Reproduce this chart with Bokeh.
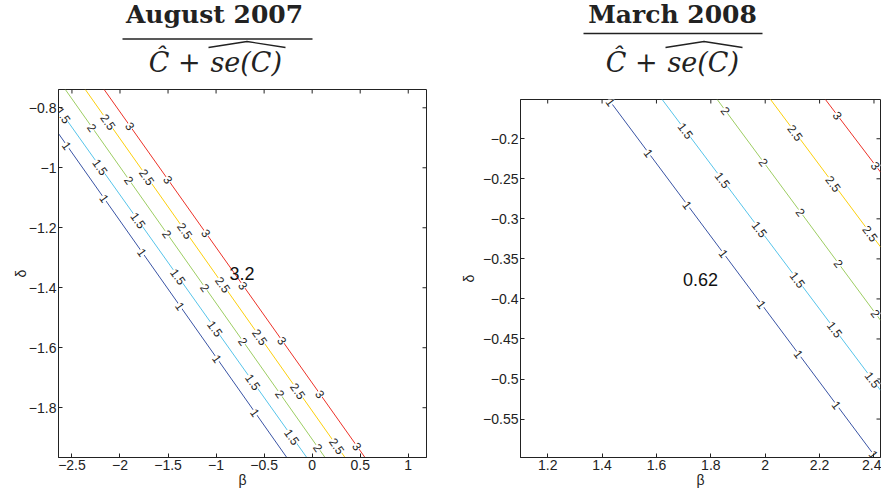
import math
import numpy as np
from bokeh.plotting import figure
from bokeh.layouts import row, column
from bokeh.models import Range1d, FixedTicker, Label, ColumnDataSource
from bokeh.embed import file_html
from bokeh.resources import INLINE
from bokeh.core.properties import value

# ---------------- data ----------------
levels = [1.0, 1.5, 2.0, 2.5, 3.0]
level_text = ["1", "1.5", "2", "2.5", "3"]
level_colors = ["#3953a4", "#56c4ea", "#9dcd62", "#fccf0c", "#ec3127"]

# August 2007 panel
aug_title = "August 2007"
aug_x_range = [-2.64, 1.19]
aug_y_range = [-1.966, -0.739]
aug_x_ticks = [-2.5, -2.0, -1.5, -1.0, -0.5, 0.0, 0.5, 1.0]
aug_x_tick_labels = ["−2.5", "−2", "−1.5", "−1", "−0.5", "0", "0.5", "1"]
aug_y_ticks = [-1.8, -1.6, -1.4, -1.2, -1.0, -0.8]
aug_y_tick_labels = ["−1.8", "−1.6", "−1.4", "−1.2", "−1", "−0.8"]
aug_beta_start = [-2.64, -2.64, -2.569, -2.361, -2.165]
aug_delta_start = [-0.886, -0.802, -0.739, -0.739, -0.739]
aug_beta_end = [-0.264, -0.056, 0.134, 0.342, 0.550]
aug_delta_end = [-1.966, -1.966, -1.966, -1.966, -1.966]
aug_label_beta = [
    [-2.552, -2.164, -1.769, -1.375, -0.989, -0.594],
    [-2.590, -2.206, -1.811, -1.395, -1.010, -0.615, -0.209],
    [-2.289, -1.904, -1.509, -1.114, -0.719, -0.334, 0.061],
    [-2.123, -1.718, -1.323, -0.928, -0.543, -0.147, 0.258],
    [-1.895, -1.500, -1.105, -0.719, -0.313, 0.082, 0.467],
]
aug_note = "3.2"
aug_note_beta = -0.729
aug_note_delta = -1.353

# March 2008 panel
mar_title = "March 2008"
mar_x_range = [1.1, 2.424]
mar_y_range = [-0.598, -0.151]
mar_x_ticks = [1.2, 1.4, 1.6, 1.8, 2.0, 2.2, 2.4]
mar_x_tick_labels = ["1.2", "1.4", "1.6", "1.8", "2", "2.2", "2.4"]
mar_y_ticks = [-0.55, -0.5, -0.45, -0.4, -0.35, -0.3, -0.25, -0.2]
mar_y_tick_labels = ["−0.55", "−0.5", "−0.45", "−0.4", "−0.35", "−0.3", "−0.25", "−0.2"]
mar_beta_start = [1.4245, 1.621, 1.8235, 2.0197, 2.2214]
mar_delta_start = [-0.151, -0.151, -0.151, -0.151, -0.151]
mar_beta_end = [2.407, 2.424, 2.424, 2.424, 2.424]
mar_delta_end = [-0.598, -0.514, -0.4266, -0.335, -0.2416]
mar_label_beta = [
    [1.431, 1.571, 1.714, 1.847, 1.987, 2.123, 2.263, 2.399],
    [1.707, 1.843, 1.979, 2.119, 2.256, 2.395],
    [1.854, 1.994, 2.130, 2.270, 2.406],
    [2.111, 2.251, 2.387],
    [2.266, 2.406],
]
mar_note = "0.62"
mar_note_beta = 1.762
mar_note_delta = -0.3754

subtitle_left = "Ĉ +"
subtitle_right = "se(C)"

TICK_FONT = "Liberation Sans"
SERIF = "DejaVu Serif"
INK = "#222222"


def make_panel(x_range, y_range, xticks, xlabels, yticks, ylabels,
               b0s, d0s, b1s, d1s, label_betas, note, note_b, note_d,
               fw, fh, mb_left, mb_right, mb_top, mb_bottom, ylab_standoff):
    p = figure(x_range=Range1d(*x_range), y_range=Range1d(*y_range),
               frame_width=fw, frame_height=fh,
               min_border_left=mb_left, min_border_right=mb_right,
               min_border_top=mb_top, min_border_bottom=mb_bottom,
               output_backend="svg", toolbar_location=None, title=None)
    p.grid.visible = False
    p.background_fill_color = "white"
    p.border_fill_color = "white"
    p.outline_line_color = INK
    p.outline_line_width = 1

    for ax, ticks, labels in ((p.xaxis[0], xticks, xlabels), (p.yaxis[0], yticks, ylabels)):
        ax.ticker = FixedTicker(ticks=ticks)
        ax.major_label_overrides = {t: l for t, l in zip(ticks, labels)}
        ax.major_tick_in = 4
        ax.major_tick_out = 0
        ax.minor_tick_in = 0
        ax.minor_tick_out = 0
        ax.major_label_text_font = TICK_FONT
        ax.major_label_text_font_size = "14px"
        ax.major_label_text_color = INK
        ax.major_label_standoff = 2
        ax.axis_line_color = INK
        ax.major_tick_line_color = INK
        ax.axis_label_text_font = TICK_FONT
        ax.axis_label_text_font_size = "14px"
        ax.axis_label_text_font_style = "normal"
        ax.axis_label_text_color = INK
        ax.axis_label_standoff = -1
    p.xaxis[0].axis_label = "β"
    p.yaxis[0].axis_label = "δ"
    p.yaxis[0].axis_label_standoff = ylab_standoff

    # mirrored inward ticks on the top and right edges
    p.ray(x=xticks, y=[y_range[1]] * len(xticks), length=4, length_units="screen",
          angle=-math.pi / 2, line_color=INK, line_width=1)
    p.ray(x=[x_range[1]] * len(yticks), y=yticks, length=4, length_units="screen",
          angle=math.pi, line_color=INK, line_width=1)

    # contour lines
    seg = ColumnDataSource(dict(x0=b0s, y0=d0s, x1=b1s, y1=d1s, color=level_colors))
    p.segment("x0", "y0", "x1", "y1", source=seg, line_color="color", line_width=1)

    # contour labels along each line
    px_b = fw / (x_range[1] - x_range[0])
    px_d = fh / (y_range[1] - y_range[0])
    lx, ly, lt, la = [], [], [], []
    for i, bets in enumerate(label_betas):
        slope = (d1s[i] - d0s[i]) / (b1s[i] - b0s[i])
        ang = math.atan(slope * px_d / px_b)
        for b in bets:
            lx.append(b)
            ly.append(float(np.interp(b, [b0s[i], b1s[i]], [d0s[i], d1s[i]])))
            lt.append(level_text[i])
            la.append(ang)
    lab = ColumnDataSource(dict(x=lx, y=ly, text=lt, angle=la))
    p.text("x", "y", text="text", angle="angle", source=lab,
           text_font=value(TICK_FONT), text_font_size="12px", text_color=INK,
           text_align="center", text_baseline="middle",
           background_fill_color="white")

    p.add_layout(Label(x=note_b, y=note_d, text=note, text_font=TICK_FONT,
                       text_font_size="18px", text_color="#111111",
                       text_align="center", text_baseline="middle"))
    return p


def make_title(width, height, title, cx, y1, bar_x0, bar_x1, bar_y,
               split_x, y2, hat_x0, hat_x1, hat_peak, hat_end):
    # a bare figure whose data units are pixels (y grows downwards)
    t = figure(x_range=Range1d(0, width), y_range=Range1d(height, 0),
               frame_width=width, frame_height=height, min_border=0,
               x_axis_location=None, y_axis_location=None,
               output_backend="svg", toolbar_location=None, title=None)
    t.grid.visible = False
    t.outline_line_color = None
    t.text(x=[cx], y=[y1], text=[title], text_font=value(SERIF),
           text_font_style="bold", text_font_size="25px", text_color=INK,
           text_align="center", text_baseline="alphabetic")
    t.line(x=[bar_x0, bar_x1], y=[bar_y, bar_y], line_color=INK, line_width=1.4)
    t.text(x=[split_x], y=[y2], text=[subtitle_left], text_font=value(SERIF),
           text_font_style="italic", text_font_size="27px", text_color=INK,
           text_align="right", text_baseline="alphabetic")
    t.text(x=[split_x + 10], y=[y2], text=[subtitle_right], text_font=value(SERIF),
           text_font_style="italic", text_font_size="27px", text_color=INK,
           text_align="left", text_baseline="alphabetic")
    t.line(x=[hat_x0, (hat_x0 + hat_x1) / 2, hat_x1], y=[hat_end, hat_peak, hat_end],
           line_color=INK, line_width=1.3)
    return t


# geometry (page has no margin; frames placed to match the reference)
L_left, L_right, L_top, L_bottom = 58, 22, 2, 34
L_fw, L_fh = 368, 368
R_left, R_right, R_top, R_bottom = 72, 1, 2, 34
R_fw, R_fh = 360, 358

p1 = make_panel(aug_x_range, aug_y_range, aug_x_ticks, aug_x_tick_labels,
                aug_y_ticks, aug_y_tick_labels, aug_beta_start, aug_delta_start,
                aug_beta_end, aug_delta_end, aug_label_beta, aug_note,
                aug_note_beta, aug_note_delta, L_fw, L_fh, L_left, L_right, L_top,
                L_bottom, -3)
p2 = make_panel(mar_x_range, mar_y_range, mar_x_ticks, mar_x_tick_labels,
                mar_y_ticks, mar_y_tick_labels, mar_beta_start, mar_delta_start,
                mar_beta_end, mar_delta_end, mar_label_beta, mar_note,
                mar_note_beta, mar_note_delta, R_fw, R_fh, R_left, R_right, R_top,
                R_bottom, 3)

# title coordinates are relative to each panel's frame left edge
t1 = make_title(L_fw, 87, aug_title, 156, 14, 64, 254, 38.5, 142, 62, 150, 227, 41, 47)
t2 = make_title(R_fw, 97, mar_title, 152, 14, 63, 242, 33, 137, 62, 145, 222, 41, 47)

layout = row(column(t1, p1), column(t2, p2))
open("out.html", "w").write(file_html(layout, INLINE))
